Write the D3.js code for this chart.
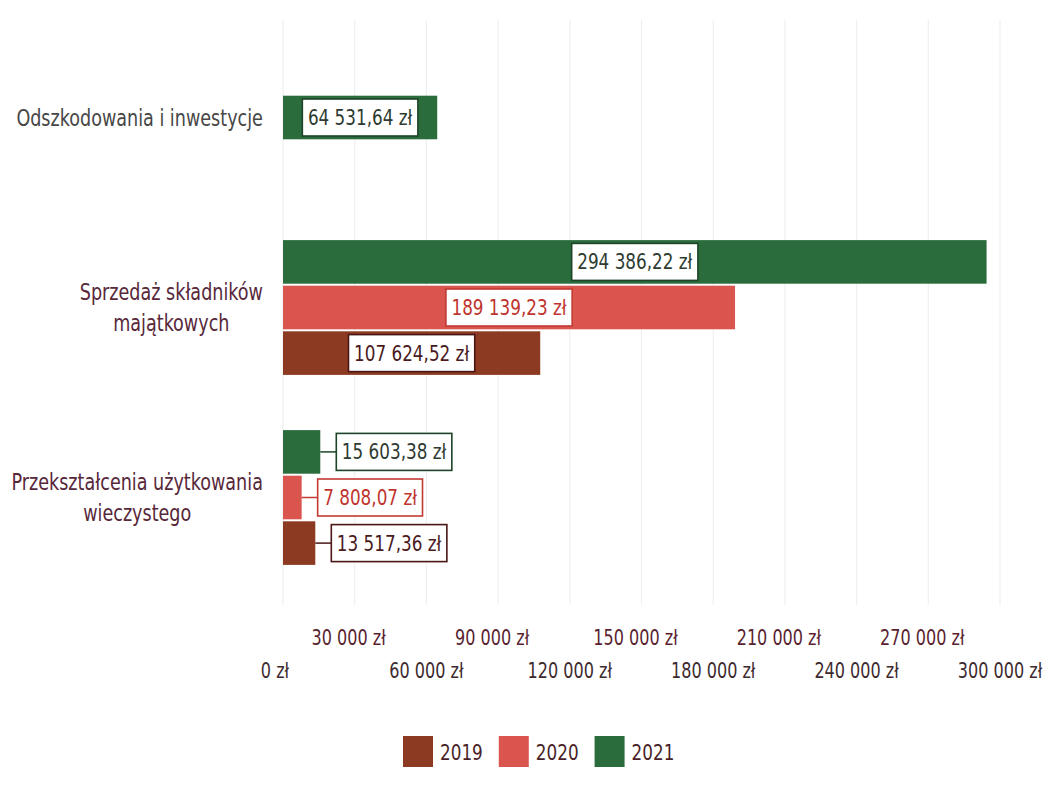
<!DOCTYPE html>
<html><head><meta charset="utf-8">
<script src="https://cdn.jsdelivr.net/npm/d3@7"></script>
<style>
html,body{margin:0;padding:0;background:#fff;}
svg{display:block;}
text{font-family:"DejaVu Sans Condensed","DejaVu Sans",sans-serif;}
</style></head>
<body>
<svg id="chart" width="1064" height="793"></svg>
<script>
const categories = [
  ["Odszkodowania i inwestycje"],
  ["Sprzedaż składników", "majątkowych"],
  ["Przekształcenia użytkowania", "wieczystego"]
];
const categoryKeys = ["Odszkodowania i inwestycje", "Sprzedaż składników majątkowych", "Przekształcenia użytkowania wieczystego"];
const years = ["2021", "2020", "2019"];           // top to bottom inside a group
const legendYears = ["2019", "2020", "2021"];
const values2019 = [null, 107624.52, 13517.36];
const values2020 = [null, 189139.23, 7808.07];
const values2021 = [64531.64, 294386.22, 15603.38];
const tickValues = [0, 30000, 60000, 90000, 120000, 150000, 180000, 210000, 240000, 270000, 300000];
const labelsOutside = [false, false, true];

const seriesValues = {"2019": values2019, "2020": values2020, "2021": values2021};
const colors = {"2019": "#8c3b22", "2020": "#d9554e", "2021": "#2b6c3d"};
const darkColors = {"2019": "#4a1616", "2020": "#c23a33", "2021": "#1d4428"};
const textColors = {"2019": "#4a1a1e", "2020": "#c0342e", "2021": "#2e3b31"};
const labelColor = "#57283a";
const SX = 0.85; // horizontal condensing of the narrow font

const fmt = v => {
  const s = v.toFixed(2).split(".");
  const intPart = s[0].replace(/\B(?=(\d{3})+(?!\d))/g, " ");
  return intPart + "," + s[1] + " zł";
};
const tickFmt = v => (v === 0 ? "0" : String(v).replace(/\B(?=(\d{3})+(?!\d))/g, " ")) + " zł";
const place = (sel, px, py) => sel.attr("transform", `translate(${px},${py}) scale(${SX},1)`);

const svg = d3.select("#chart");
const x = d3.scaleLinear().domain([0, 300000]).range([283, 1000]);
const y = d3.scaleBand().domain(categoryKeys).range([22.5, 592.5]).paddingInner(0.28).paddingOuter(0.14);

// gridlines
svg.append("g").selectAll("line").data(tickValues).join("line")
  .attr("x1", d => x(d)).attr("x2", d => x(d))
  .attr("y1", 20).attr("y2", 605)
  .attr("stroke", "#efefef").attr("stroke-width", 1.2);

// tick labels in two staggered rows
svg.append("g").selectAll("text").data(tickValues).join("text")
  .attr("text-anchor", "middle")
  .attr("font-size", 21)
  .attr("fill", (d, i) => i % 2 ? "#5a1f30" : "#3d2a2e")
  .text(tickFmt)
  .each(function(d, i) {
    place(d3.select(this), x(d) - (i % 2 ? 6 : (i === 0 ? 8 : 0)), i % 2 ? 645 : 678);
  });

// bars
const barH = y.bandwidth() / 3;
const catData = categoryKeys.map((k, ci) => {
  const present = years.filter(yr => seriesValues[yr][ci] !== null);
  const sub = d3.scaleBand().domain(present).range([0, barH * present.length]);
  const offset = y(k) + (y.bandwidth() - barH * present.length) / 2;
  return present.map(yr => ({ci, yr, v: seriesValues[yr][ci], y0: offset + sub(yr), h: sub.bandwidth()}));
}).flat();

const bars = svg.append("g");
bars.selectAll("rect").data(catData).join("rect")
  .attr("x", x(0)).attr("y", d => d.y0 + 1)
  .attr("width", d => x(d.v) - x(0)).attr("height", d => d.h - 2)
  .attr("fill", d => colors[d.yr]);

// data labels
const lab = svg.append("g");
catData.forEach(d => {
  const g = lab.append("g");
  const t = g.append("text").attr("font-size", 22).attr("fill", textColors[d.yr]).text(fmt(d.v));
  const w = t.node().getComputedTextLength() * SX;
  const bw = w + 11, bh = 37;
  const cy = d.y0 + d.h / 2;
  let bx;
  if (labelsOutside[d.ci]) {
    bx = x(d.v) + 16;
    g.insert("line", "text").attr("x1", x(d.v)).attr("x2", bx).attr("y1", cy).attr("y2", cy)
      .attr("stroke", darkColors[d.yr]).attr("stroke-width", 1.5);
  } else {
    bx = (x(0) + x(d.v)) / 2 - bw / 2;
  }
  g.insert("rect", "text").attr("x", bx).attr("y", cy - bh / 2).attr("width", bw).attr("height", bh)
    .attr("fill", "#fff").attr("stroke", darkColors[d.yr]).attr("stroke-width", 1.6);
  t.attr("text-anchor", "middle");
  place(t, bx + bw / 2, cy + 7.5);
});

// category labels
const cl = svg.append("g");
categories.forEach((lines, ci) => {
  const g = cl.append("g");
  const cy = y(categoryKeys[ci]) + y.bandwidth() / 2;
  const lh = 31;
  const ts = lines.map(ln => g.append("text").attr("font-size", 23).attr("fill", ci === 0 ? "#474747" : labelColor)
    .attr("text-anchor", "middle").text(ln));
  const maxW = d3.max(ts, t => t.node().getComputedTextLength()) * SX;
  ts.forEach((t, li) => place(t, 263 - maxW / 2, cy + (li - (lines.length - 1) / 2) * lh + 8));
});

// legend
const lg = svg.append("g");
let lx = 403;
legendYears.forEach(yr => {
  lg.append("rect").attr("x", lx).attr("y", 736).attr("width", 30).attr("height", 31).attr("fill", colors[yr]);
  const t = lg.append("text").attr("font-size", 22).attr("fill", "#4a1f28").text(yr);
  place(t, lx + 37, 760);
  lx += 37 + t.node().getComputedTextLength() * SX + 16;
});
</script>
</body></html>
